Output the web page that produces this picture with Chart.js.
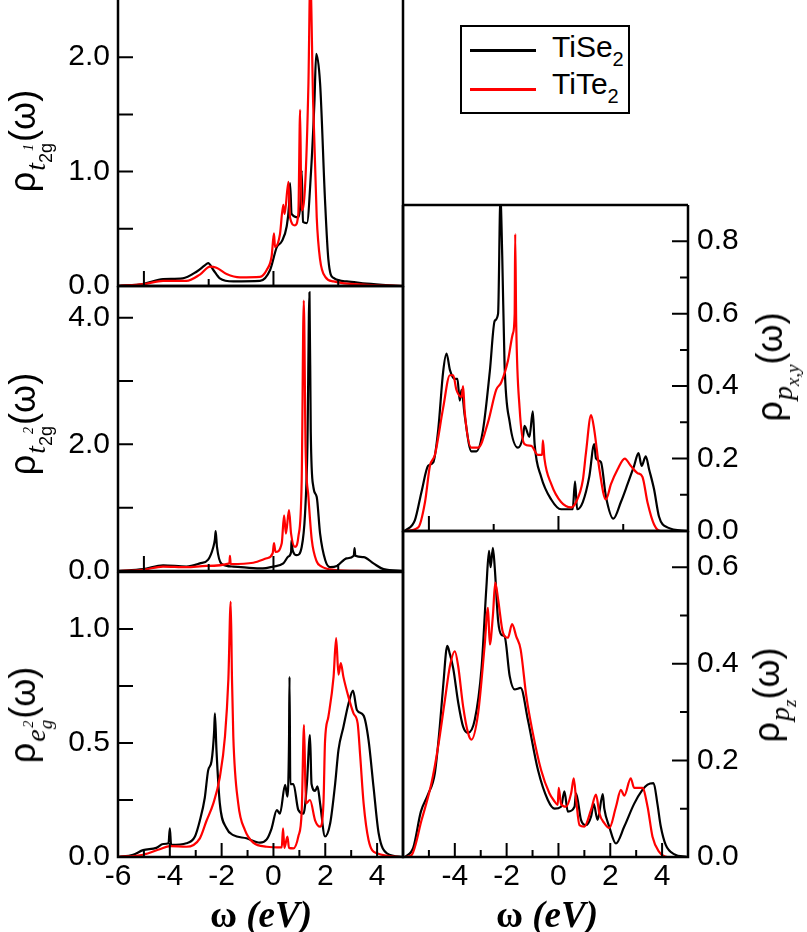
<!DOCTYPE html>
<html><head><meta charset="utf-8">
<script src="https://cdn.jsdelivr.net/npm/chart.js@4.4.1/dist/chart.umd.min.js"></script>
<style>
html,body{margin:0;padding:0;background:#fff;}
body{width:807px;height:932px;position:relative;overflow:hidden;font-family:"Liberation Sans",Arial,sans-serif;color:#000;}
.pan{position:absolute;}
.pan canvas{display:block;}
.yt{position:absolute;white-space:nowrap;font-size:36px;line-height:1;transform:translate(-50%,-50%) rotate(-90deg);}
.yt .a{font-family:"Liberation Serif","Times New Roman",serif;font-style:italic;font-size:28px;position:relative;top:10px;margin-left:1px;}
.yt .b{font-size:18px;position:relative;top:17px;}
.yt .bi{font-family:"Liberation Serif",serif;font-style:italic;font-size:19px;position:relative;top:17px;}
.yt .c{font-family:"Liberation Serif",serif;font-style:italic;font-size:14px;position:relative;top:-2px;margin-left:-8px;margin-right:2px;}
.xt{position:absolute;white-space:nowrap;font-family:"Liberation Serif","Times New Roman",serif;font-weight:bold;font-size:37px;line-height:1;transform:translate(-50%,-50%);}
#legend{position:absolute;left:460px;top:25px;width:170px;height:89px;border:2.5px solid #000;box-sizing:border-box;}
#legend .ln{position:absolute;left:8px;width:66px;height:2.5px;}
#legend .tx{position:absolute;left:90px;font-size:30px;line-height:1;}
#legend .tx sub{font-size:20px;position:relative;top:2px;}
</style></head><body>

<div class="pan" style="left:0;top:0"><canvas id="cA" width="410" height="305"></canvas></div>
<div class="pan" style="left:0;top:270px"><canvas id="cB" width="410" height="320"></canvas></div>
<div class="pan" style="left:0;top:556px"><canvas id="cC" width="410" height="376"></canvas></div>
<div class="pan" style="left:395px;top:190px"><canvas id="cD" width="412" height="360"></canvas></div>
<div class="pan" style="left:395px;top:515px"><canvas id="cE" width="412" height="417"></canvas></div>

<div class="yt" style="left:23px;top:141px">ρ<span class="a">t</span><span class="b">2g</span><span class="c">1</span>(ω)</div>
<div class="yt" style="left:23px;top:424px">ρ<span class="a">t</span><span class="b">2g</span><span class="c">2</span>(ω)</div>
<div class="yt" style="left:23px;top:715px">ρ<span class="a">e</span><span class="bi">g</span><span class="c">2</span>(ω)</div>
<div class="yt" style="left:770px;top:367px">ρ<span class="a">p</span><span class="bi">x,y</span>(ω)</div>
<div class="yt" style="left:767px;top:695px">ρ<span class="a">p</span><span class="bi">z</span>(ω)</div>

<div class="xt" style="left:261px;top:914px">ω <i>(eV)</i></div>
<div class="xt" style="left:547px;top:914px">ω <i>(eV)</i></div>

<div id="legend">
  <div class="ln" style="top:22px;background:#000"></div>
  <div class="tx" style="top:5px">TiSe<sub>2</sub></div>
  <div class="ln" style="top:61px;background:#f00"></div>
  <div class="tx" style="top:42px">TiTe<sub>2</sub></div>
</div>

<script>
// ---------- series names ----------
const seriesNames = ['TiSe2', 'TiTe2'];

// ---------- t2g^1 panel ----------
const t2g1X_Se = [-6,-5,-4.26,-3.5,-2.97,-2.65,-2.52,-2.32,-2.07,-1.55,-0.52,-0.13,0.13,0.32,0.51,0.6,0.64,0.7,0.96,1.05,1.09,1.14,1.29,1.45,1.58,1.65,1.8,1.99,2.12,2.32,2.83,3.6,4.9];
const t2g1Y_Se = [0,0.02,0.06,0.067,0.125,0.18,0.2,0.14,0.067,0.04,0.044,0.14,0.34,0.39,0.52,0.7,0.9,0.63,0.6,0.75,1.01,0.56,0.55,1.0,1.6,2.03,1.77,0.75,0.23,0.07,0.04,0.02,0];
const t2g1X_Te = [-6,-5,-4.26,-3.36,-2.84,-2.45,-2.2,-1.81,-1.29,-0.52,-0.26,-0.07,0.02,0.06,0.25,0.38,0.43,0.58,0.64,0.83,0.96,1.03,1.08,1.22,1.35,1.42,1.53,1.67,1.8,2.0,2.32,3.6,5];
const t2g1Y_Te = [0,0.017,0.044,0.044,0.1,0.17,0.16,0.105,0.076,0.08,0.14,0.26,0.46,0.34,0.45,0.71,0.63,0.91,0.6,0.53,0.63,1.54,0.66,0.87,1.77,2.7,1.62,0.6,0.23,0.08,0.04,0.01,0];

// ---------- t2g^2 panel ----------
const t2g2X_Se = [-6,-5.03,-4.26,-3.36,-2.84,-2.52,-2.32,-2.26,-2.23,-2.18,-2.0,-1.55,-0.52,0,0.38,0.58,0.68,0.7,0.74,0.9,1.09,1.22,1.31,1.39,1.44,1.54,1.67,1.8,2.0,2.19,2.45,2.83,3.1,3.13,3.16,3.48,3.86,4.25,5];
const t2g2Y_Se = [0,0.03,0.09,0.07,0.12,0.18,0.38,0.5,0.63,0.38,0.11,0.07,0.04,0.07,0.12,0.23,0.3,0.49,0.33,0.25,0.38,0.91,1.96,4.4,2.2,1.33,1.17,0.59,0.17,0.06,0.08,0.2,0.24,0.36,0.24,0.22,0.12,0.03,0];
const t2g2X_Te = [-6,-5.03,-4.26,-3.36,-2.58,-1.7,-1.68,-1.65,-0.78,-0.26,-0.03,0.02,0.08,0.32,0.41,0.48,0.6,0.68,0.83,0.96,1.09,1.17,1.24,1.35,1.48,1.67,1.86,2.32,3.6];
const t2g2Y_Te = [0,0.02,0.07,0.06,0.08,0.12,0.24,0.11,0.13,0.2,0.28,0.44,0.3,0.44,0.88,0.59,0.96,0.59,0.38,0.54,1.43,4.27,1.95,1.17,0.49,0.15,0.07,0.02,0];

// ---------- e_g^2 panel ----------
const eg2X_Se = [-6,-5.42,-5.03,-4.52,-4.26,-4.05,-4.0,-3.95,-3.36,-3.03,-2.84,-2.65,-2.52,-2.39,-2.29,-2.26,-2.2,-2.07,-1.81,-1.55,-1.04,-0.52,-0.26,-0.07,0.13,0.25,0.45,0.54,0.6,0.62,0.65,0.77,0.96,1.16,1.29,1.41,1.47,1.61,1.7,1.8,1.99,2.19,2.38,2.51,2.7,2.9,3.07,3.22,3.48,3.67,3.86,4.06,4.38,5];
const eg2Y_Se = [0,0.01,0.03,0.04,0.057,0.06,0.126,0.053,0.06,0.09,0.16,0.26,0.38,0.42,0.55,0.63,0.47,0.235,0.126,0.096,0.082,0.063,0.077,0.126,0.206,0.19,0.316,0.265,0.5,0.79,0.32,0.32,0.206,0.19,0.32,0.535,0.32,0.29,0.31,0.235,0.09,0.148,0.32,0.47,0.57,0.674,0.73,0.645,0.62,0.513,0.31,0.104,0.016,0];
const eg2X_Te = [-6,-5.03,-4.39,-4.0,-3.36,-2.84,-2.58,-2.32,-2.07,-1.87,-1.74,-1.65,-1.6,-1.55,-1.36,-1.1,-0.78,-0.26,0.32,0.37,0.42,0.54,0.6,0.77,0.96,1.09,1.18,1.25,1.41,1.61,1.8,1.93,1.99,2.12,2.32,2.42,2.51,2.6,2.7,2.9,3.09,3.25,3.35,3.48,3.67,3.99,5];
const eg2Y_Te = [0,0.01,0.034,0.048,0.045,0.082,0.16,0.235,0.35,0.53,0.78,1.12,0.78,0.53,0.235,0.118,0.063,0.045,0.042,0.126,0.04,0.09,0.04,0.038,0.09,0.2,0.58,0.235,0.25,0.16,0.133,0.235,0.506,0.615,0.79,0.96,0.8,0.85,0.79,0.70,0.63,0.586,0.44,0.235,0.075,0.016,0];

// ---------- p_x,y panel ----------
const pxyX_Se = [-5.92,-5.54,-5.28,-5.03,-4.83,-4.64,-4.45,-4.32,-4.19,-4.0,-3.9,-3.81,-3.74,-3.62,-3.36,-3.17,-2.91,-2.65,-2.46,-2.33,-2.24,-2.17,-2.08,-1.88,-1.56,-1.37,-1.31,-1.12,-0.99,-0.92,-0.67,-0.28,0.1,0.55,0.64,0.72,0.94,1.19,1.38,1.45,1.64,1.83,2.12,2.41,2.67,2.92,3.09,3.21,3.37,3.5,3.69,3.88,4.2,4.97];
const pxyY_Se = [0,0.03,0.11,0.18,0.19,0.28,0.44,0.49,0.445,0.42,0.42,0.36,0.39,0.32,0.22,0.22,0.28,0.44,0.58,0.6,0.92,0.76,0.46,0.3,0.23,0.26,0.29,0.26,0.33,0.24,0.15,0.087,0.06,0.06,0.137,0.06,0.08,0.15,0.24,0.2,0.19,0.096,0.034,0.08,0.13,0.18,0.215,0.18,0.206,0.17,0.115,0.04,0.01,0];
const pxyX_Te = [-5.92,-5.41,-5.15,-4.96,-4.77,-4.45,-4.19,-4.06,-3.94,-3.74,-3.68,-3.62,-3.36,-3.1,-2.72,-2.4,-2.21,-1.95,-1.76,-1.69,-1.67,-1.63,-1.5,-1.31,-1.05,-0.79,-0.63,-0.6,-0.54,-0.28,0.1,0.49,0.68,0.94,1.06,1.26,1.38,1.58,1.83,2.03,2.28,2.56,2.79,3.05,3.24,3.44,3.69,3.95,5];
const pxyY_Te = [0,0.01,0.08,0.18,0.21,0.34,0.43,0.43,0.39,0.37,0.40,0.33,0.23,0.23,0.3,0.39,0.41,0.47,0.545,0.6,0.82,0.57,0.34,0.24,0.235,0.21,0.21,0.25,0.2,0.13,0.08,0.065,0.08,0.14,0.215,0.32,0.28,0.17,0.087,0.13,0.17,0.2,0.18,0.16,0.15,0.078,0.018,0,0];

// ---------- p_z panel ----------
const pzX_Se = [-5.92,-5.6,-5.31,-5.03,-4.77,-4.58,-4.45,-4.29,-4.19,-4.06,-3.87,-3.68,-3.49,-3.23,-2.97,-2.78,-2.68,-2.62,-2.53,-2.46,-2.33,-2.2,-2.08,-1.88,-1.69,-1.46,-1.18,-0.79,-0.41,-0.15,0.1,0.23,0.36,0.62,0.68,0.87,1.06,1.26,1.36,1.51,1.71,1.77,1.96,2.22,2.54,2.92,3.24,3.44,3.67,3.82,3.95,4.14,4.46,4.97];
const pzY_Se = [0,0.02,0.094,0.13,0.174,0.27,0.354,0.437,0.42,0.39,0.32,0.27,0.257,0.284,0.39,0.56,0.634,0.6,0.64,0.6,0.49,0.46,0.457,0.374,0.347,0.35,0.284,0.18,0.118,0.1,0.104,0.136,0.094,0.104,0.132,0.077,0.066,0.084,0.11,0.077,0.13,0.1,0.063,0.028,0.063,0.11,0.139,0.15,0.153,0.11,0.063,0.025,0.006,0];
const pzX_Te = [-5.92,-5.67,-5.28,-4.9,-4.64,-4.38,-4.19,-4.0,-3.87,-3.68,-3.49,-3.36,-3.1,-2.85,-2.72,-2.65,-2.53,-2.44,-2.33,-2.14,-1.95,-1.79,-1.63,-1.46,-1.24,-0.99,-0.67,-0.35,-0.15,-0.03,0.01,0.1,0.29,0.49,0.59,0.68,0.81,1.0,1.26,1.45,1.58,1.77,1.96,2.22,2.41,2.54,2.79,2.92,3.24,3.44,3.63,3.88,4.21,5];
const pzY_Te = [0,0.004,0.077,0.153,0.23,0.326,0.395,0.426,0.395,0.312,0.257,0.243,0.298,0.437,0.516,0.44,0.5,0.568,0.534,0.464,0.454,0.482,0.457,0.43,0.333,0.257,0.18,0.132,0.115,0.108,0.143,0.11,0.104,0.132,0.163,0.12,0.066,0.063,0.098,0.129,0.09,0.07,0.06,0.104,0.139,0.127,0.163,0.143,0.143,0.104,0.042,0.011,0,0];

// ---------- tick labels ----------
const xTickLabelsLeft = [-6,-4,-2,0,2,4];
const xTickLabelsRight = [-4,-2,0,2,4];
const yTicksA = [0,1,2];
const yTicksB = [0,2,4];
const yTicksC = [0,0.5,1.0];
const yTicksD = [0,0.2,0.4,0.6,0.8];
const yTicksE = [0,0.2,0.4,0.6];

const FONT = {family:'"Liberation Sans", Arial, sans-serif', size:30};

function pts(xs, ys){ return xs.map((x,i)=>({x:x, y:ys[i]})); }

const framePlugin = {
  id:'frame',
  afterDatasetsDraw(chart, args, o){
    const ctx = chart.ctx, a = chart.chartArea, sx = chart.scales.x, sy = chart.scales.y;
    ctx.save();
    ctx.strokeStyle = '#000';
    ctx.lineWidth = 2;
    ctx.beginPath();
    (o.xMajor||[]).forEach(v=>{const p=sx.getPixelForValue(v); ctx.moveTo(p,a.bottom); ctx.lineTo(p,a.bottom-o.xMajorLen);});
    (o.xMinor||[]).forEach(v=>{const p=sx.getPixelForValue(v); ctx.moveTo(p,a.bottom); ctx.lineTo(p,a.bottom-o.xMinorLen);});
    const ex = o.ySide==='left' ? a.left : a.right, dir = o.ySide==='left' ? 1 : -1;
    (o.yMajor||[]).forEach(v=>{const p=sy.getPixelForValue(v); ctx.moveTo(ex,p); ctx.lineTo(ex+dir*o.yMajorLen,p);});
    (o.yMinor||[]).forEach(v=>{const p=sy.getPixelForValue(v); ctx.moveTo(ex,p); ctx.lineTo(ex+dir*o.yMinorLen,p);});
    ctx.stroke();
    ctx.lineWidth = 2.5;
    ctx.beginPath();
    if (o.top !== false){ ctx.moveTo(a.left,a.top); ctx.lineTo(a.right,a.top); }
    ctx.moveTo(a.left,a.top); ctx.lineTo(a.left,a.bottom);
    ctx.moveTo(a.right,a.top); ctx.lineTo(a.right,a.bottom);
    ctx.moveTo(a.left-1.25,a.bottom); ctx.lineTo(a.right+1.25,a.bottom);
    ctx.stroke();
    ctx.restore();
  }
};

function makeChart(id, cfg){
  const showX = !!cfg.xLabels;
  new Chart(document.getElementById(id), {
    type:'line',
    data:{datasets:[
      {label:seriesNames[1], data:pts(cfg.teX,cfg.teY), borderColor:'#ff0000', borderWidth:2.2, pointRadius:0, cubicInterpolationMode:'monotone', fill:false},
      {label:seriesNames[0], data:pts(cfg.seX,cfg.seY), borderColor:'#000000', borderWidth:2.2, pointRadius:0, cubicInterpolationMode:'monotone', fill:false}
    ]},
    options:{
      responsive:false, animation:false, devicePixelRatio:1,
      events:[],
      layout:{padding:cfg.pad},
      plugins:{legend:{display:false}, tooltip:{enabled:false}, frame:cfg.frame},
      scales:{
        x:{type:'linear', min:-6, max:5, display:showX,
           grid:{display:false, drawTicks:false}, border:{display:false},
           ticks:{font:FONT, color:'#000', padding:2, autoSkip:false, maxRotation:0, callback:v=>String(v)},
           afterBuildTicks:s=>{ if(showX) s.ticks = cfg.xLabels.map(v=>({value:v})); },
           afterFit:s=>{ if(showX){ s.height = 75; } s.paddingLeft = 0; s.paddingRight = 0; }
        },
        y:{type:'linear', min:0, max:cfg.yMax, position:cfg.frame.ySide,
           grid:{display:false, drawTicks:false}, border:{display:false},
           ticks:{font:FONT, color:'#000', padding:cfg.frame.ySide==='left'?8:9, callback:v=>Number(v).toFixed(1)},
           afterBuildTicks:s=>{ s.ticks = cfg.yLabels.map(v=>({value:v})); },
           afterFit:s=>{ s.width = cfg.yWidth; s.paddingTop = 0; s.paddingBottom = 0; }
        }
      }
    },
    plugins:[framePlugin]
  });
}

const topXTicks = {xMajor:[-5,0], xMinor:[-2.5,2.5], xMajorLen:15, xMinorLen:7};
const botXTicks = {xMajor:[-4,-2,0,2,4], xMinor:[-5,-3,-1,1,3], xMajorLen:14, xMinorLen:7};

makeChart('cA', {seX:t2g1X_Se, seY:t2g1Y_Se, teX:t2g1X_Te, teY:t2g1Y_Te, yMax:2.5, yLabels:yTicksA, yWidth:118,
  pad:{left:0,right:7,top:0,bottom:19},
  frame:Object.assign({top:false, ySide:'left', yMajor:[1,2], yMinor:[0.5,1.5], yMajorLen:15, yMinorLen:15}, topXTicks)});
makeChart('cB', {seX:t2g2X_Se, seY:t2g2Y_Se, teX:t2g2X_Te, teY:t2g2Y_Te, yMax:4.5, yLabels:yTicksB, yWidth:118,
  pad:{left:0,right:7,top:16,bottom:19},
  frame:Object.assign({ySide:'left', yMajor:[2,4], yMinor:[1,3], yMajorLen:15, yMinorLen:15}, topXTicks)});
makeChart('cC', {seX:eg2X_Se, seY:eg2Y_Se, teX:eg2X_Te, teY:eg2Y_Te, yMax:1.25, yLabels:yTicksC, yWidth:118, xLabels:xTickLabelsLeft,
  pad:{left:0,right:7,top:16,bottom:0},
  frame:Object.assign({ySide:'left', yMajor:[0.5,1.0], yMinor:[0.25,0.75], yMajorLen:15, yMinorLen:15}, botXTicks)});
makeChart('cD', {seX:pxyX_Se, seY:pxyY_Se, teX:pxyX_Te, teY:pxyY_Te, yMax:0.9, yLabels:yTicksD, yWidth:119,
  pad:{left:8,right:0,top:15,bottom:19},
  frame:Object.assign({ySide:'right', yMajor:[0.2,0.4,0.6,0.8], yMinor:[0.1,0.3,0.5,0.7], yMajorLen:16, yMinorLen:8}, topXTicks)});
makeChart('cE', {seX:pzX_Se, seY:pzY_Se, teX:pzX_Te, teY:pzY_Te, yMax:0.675, yLabels:yTicksE, yWidth:119, xLabels:xTickLabelsRight,
  pad:{left:8,right:0,top:16,bottom:0},
  frame:Object.assign({ySide:'right', yMajor:[0.2,0.4,0.6], yMinor:[0.1,0.3,0.5], yMajorLen:16, yMinorLen:8}, botXTicks)});
</script>
</body></html>
